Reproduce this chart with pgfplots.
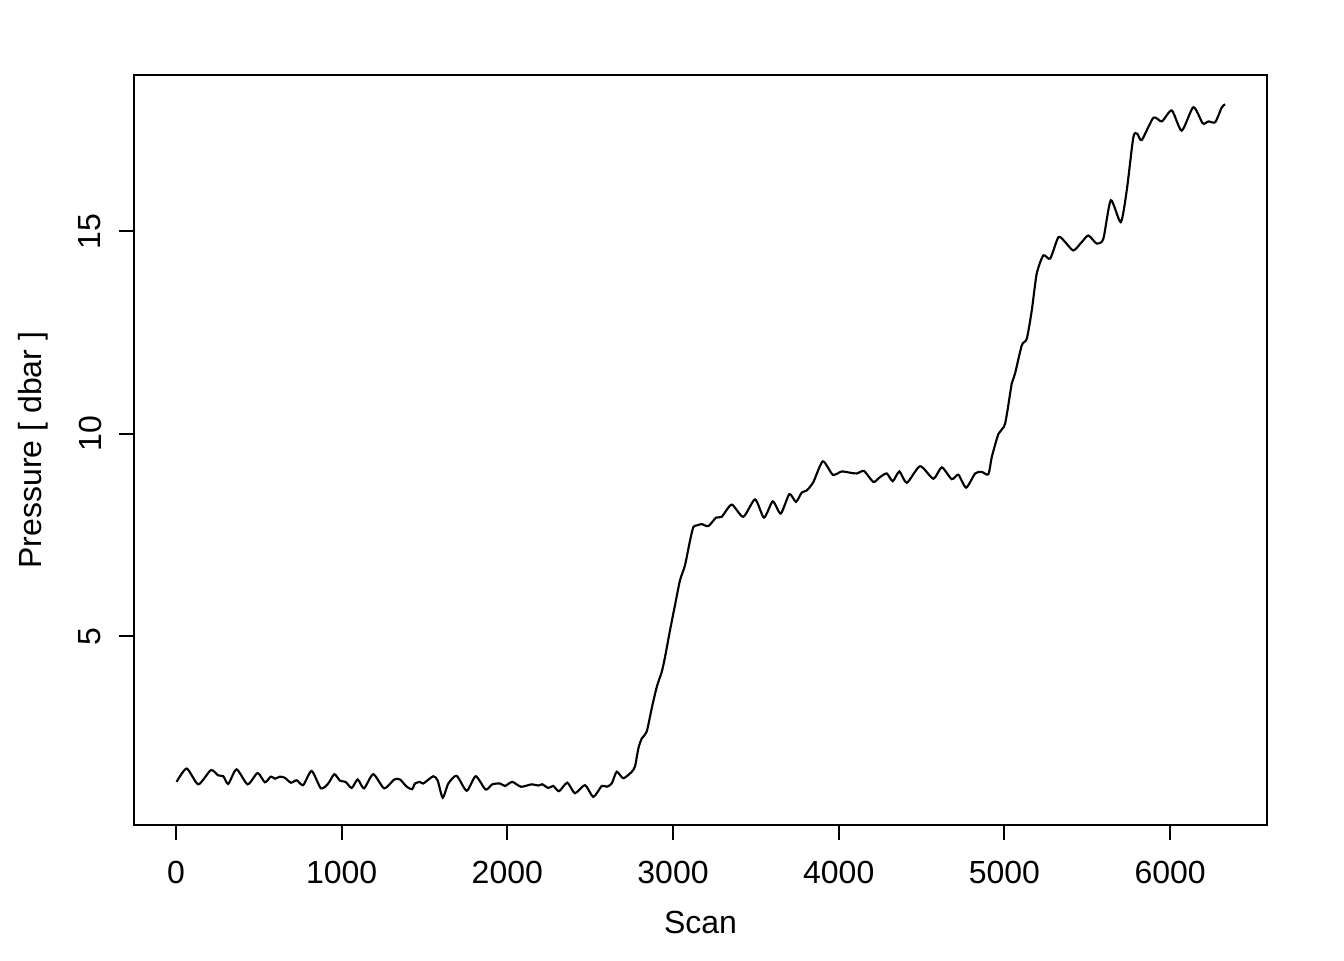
\documentclass[border=0pt]{standalone}
\usepackage{pgfplots}
\pgfplotsset{compat=1.18}
\usepackage{fontspec}
\setmainfont{Liberation Sans}
\begin{document}
\begin{tikzpicture}
\useasboundingbox (-50.25pt,-50.6pt) rectangle (453.75pt,309.4pt);
\begin{axis}[
  at={(0,0)}, anchor=south west,
  scale only axis, width=424.9pt, height=281.25pt,
  font=\fontsize{12}{14.4}\selectfont,
  xmin=-253, xmax=6585, ymin=0.333, ymax=18.864,
  xtick={0,1000,2000,3000,4000,5000,6000},
  ytick={5,10,15},
  scaled x ticks=false,
  /pgf/number format/assume math mode=true,
  /pgf/number format/1000 sep={},
  tick align=outside, major tick length=5.6pt,
  xtick pos=bottom, ytick pos=left,
  axis line style={line width=0.75pt},
  every tick/.style={black, line width=0.75pt},
  xticklabel style={inner sep=0pt, anchor=center},
  xticklabel shift=12pt,
  yticklabel style={inner sep=0pt, anchor=center, rotate=90},
  yticklabel shift=10.9pt,
  xlabel={Scan}, ylabel={Pressure [ dbar ]},
  xlabel style={at={([yshift=-36.4pt]axis description cs:0.5,0)}, anchor=center, inner sep=0pt},
  ylabel style={at={([xshift=-37.9pt]axis description cs:0,0.5)}, anchor=center, inner sep=0pt},
]
\addplot[black, line width=0.8pt, smooth, tension=0.4] coordinates {
(4,1.40) (65,1.73) (135,1.34) (211,1.69) (255,1.56) (286,1.54) (316,1.35)
(366,1.71) (433,1.34) (493,1.62) (537,1.39) (573,1.53) (598,1.48) (628,1.53)
(658,1.50) (694,1.38) (729,1.44) (768,1.32) (819,1.67) (875,1.24) (919,1.36)
(956,1.59) (990,1.43) (1024,1.40) (1061,1.25) (1097,1.46) (1135,1.24) (1191,1.59)
(1257,1.24) (1318,1.46) (1352,1.46) (1393,1.28) (1425,1.22) (1443,1.36)
(1473,1.40) (1493,1.36) (1553,1.54) (1580,1.43) (1610,1.01) (1644,1.36)
(1694,1.55) (1755,1.18) (1809,1.54) (1869,1.21) (1909,1.34) (1956,1.36)
(1986,1.30) (2030,1.40) (2083,1.28) (2147,1.34) (2187,1.31) (2211,1.34)
(2247,1.25) (2277,1.30) (2312,1.17) (2362,1.38) (2408,1.12) (2469,1.32)
(2519,1.03) (2570,1.30) (2600,1.28) (2630,1.36) (2660,1.65) (2700,1.49)
(2751,1.65) (2771,1.79) (2791,2.23) (2811,2.47) (2841,2.64) (2871,3.21)
(2902,3.75) (2932,4.12) (2952,4.49) (2982,5.15) (3012,5.77) (3042,6.38)
(3072,6.75) (3103,7.37) (3123,7.70) (3147,7.74) (3173,7.77) (3213,7.72)
(3260,7.93) (3294,7.95) (3354,8.25) (3424,7.95) (3495,8.38) (3549,7.93)
(3602,8.33) (3650,8.03) (3702,8.51) (3742,8.32) (3777,8.55) (3807,8.60)
(3847,8.81) (3904,9.32) (3964,8.99) (4018,9.07) (4068,9.04) (4109,9.02)
(4153,9.08) (4209,8.81) (4249,8.93) (4290,9.02) (4326,8.83) (4366,9.07)
(4411,8.79) (4491,9.20) (4571,8.89) (4622,9.17) (4682,8.88) (4722,8.99)
(4769,8.67) (4823,9.02) (4863,9.06) (4903,9.00) (4924,9.43) (4964,10.00)
(5004,10.25) (5044,11.24) (5064,11.49) (5105,12.19) (5135,12.35) (5165,13.05)
(5195,13.96) (5235,14.41) (5276,14.33) (5326,14.86) (5366,14.74) (5416,14.53)
(5467,14.74) (5507,14.90) (5557,14.70) (5597,14.82) (5642,15.77) (5702,15.23)
(5738,16.01) (5778,17.33) (5802,17.41) (5829,17.26) (5899,17.81) (5950,17.72)
(6010,17.99) (6070,17.49) (6140,18.07) (6197,17.67) (6231,17.72) (6272,17.70)
(6312,18.07) (6332,18.14)
};
\end{axis}
\end{tikzpicture}
\end{document}
